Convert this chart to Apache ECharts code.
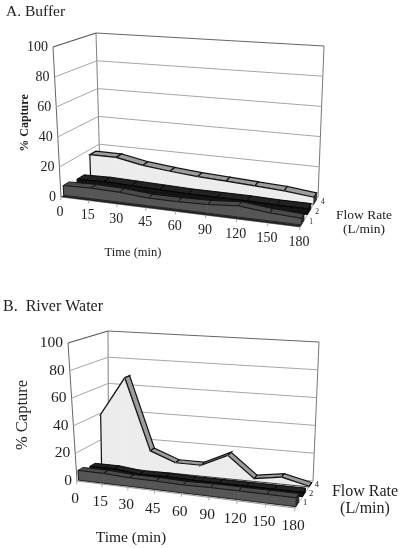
<!DOCTYPE html>
<html><head><meta charset="utf-8">
<style>html,body{margin:0;padding:0;background:#fff}#c{width:400px;height:548px}</style>
<script src="https://cdn.jsdelivr.net/npm/echarts@6/dist/echarts.min.js"></script>
</head><body><div id="c"></div>
<script>
// ---- data ----
const times = ['0','15','30','45','60','90','120','150','180'];
const yTicks = [0,20,40,60,80,100];
const flowLabels = ['1','2','4'];
const bufferFlow1 = [6.5,7,6.5,5,5,5.5,7,5,4];
const bufferFlow2 = [5,5.5,5,4.5,4,4,4,3.5,3.5];
const bufferFlow4 = [16.5,16.5,13,11,9.5,8.5,7.5,6.5,4.5];
const riverFlow1 = [7,7,6,6,5.5,6,6,6,6];
const riverFlow2 = [5,5,3,3.5,3,3,3,3,3];
const riverFlow4 = [39,68,15,8,8,17,2,5,0.5];

// ---- projection of the oblique 3-D box ----
const WARP=-0.08;
function quadMap(q){ // q: [FL, FR, BR, BL]
  const [a,b,c,d]=q;
  return (u,w)=>{
    const s=u+WARP*u*(1-u);
    const f=[a[0]+(b[0]-a[0])*s,a[1]+(b[1]-a[1])*s];
    const k=[d[0]+(c[0]-d[0])*s,d[1]+(c[1]-d[1])*s];
    return [f[0]+(k[0]-f[0])*w,f[1]+(k[1]-f[1])*w];
  };
}
function makePanel(o){
  const fl=quadMap(o.floor),tp=quadMap(o.top);
  o.proj=(u,w,v)=>{const a=fl(u,w),b=tp(u,w);return [a[0]+(b[0]-a[0])*v,a[1]+(b[1]-a[1])*v];};
  return o;
}
const panelA=makePanel({
  floor:[[61,197],[300,227],[318,197],[100,172]],
  top:[[53,47],[304,64],[324,46],[96,33]],
  grid:{left:61,top:47,width:240,height:150},
  depths:[[0.07,0.22],[0.42,0.6],[0.76,0.91]],
  depthMid:[0.17,0.5,0.83],
  yOff:[-5,0], xOff:[-1,15], dOff:[8,0],
  fs:14, dfs:7.5, base:'#222'
});
const panelB=makePanel({
  floor:[[77,481],[295,508],[313,481],[108.5,462]],
  top:[[68,343],[300,361],[319,342],[108,331]],
  grid:{left:77,top:343,width:218,height:138},
  depths:[[0.05,0.21],[0.42,0.58],[0.78,0.92]],
  depthMid:[0.17,0.5,0.83],
  yOff:[-5,0], xOff:[-2,18], dOff:[7,-1],
  fs:15.5, dfs:8.5, base:null
});
const looks=[
  {face:'#565656',top:'#4a4a4a',cap:'#2c2c2c',edge:'#111',lw:0.9},
  {face:'#141414',top:'#222',cap:'#0c0c0c',edge:'#000',lw:0.9},
  {face:'#ececec',top:'#9c9c9c',cap:'#333',edge:'#111',lw:1.2}
];
const N=times.length;

function poly(pts,fill,stroke,lw){
  return {type:'polygon',shape:{points:pts},style:{fill:fill,stroke:stroke||null,lineWidth:lw||0}};
}
function line(a,b,c,lw){
  return {type:'line',shape:{x1:a[0],y1:a[1],x2:b[0],y2:b[1]},style:{stroke:c,lineWidth:lw||1,fill:null}};
}
function txt(x,y,t,size,align,vAlign){
  return {type:'text',x:x,y:y,style:{text:t,fill:'#222',font:size+'px "Liberation Serif"',textAlign:align||'center',textVerticalAlign:vAlign||'middle'}};
}
function toUV(api,params,cat,val){
  const p=api.coord([cat,val]),r=params.coordSys;
  return [(p[0]-r.x)/r.width,(r.y+r.height-p[1])/r.height];
}

// frame: walls, gridlines, floor, value labels
function frameSeries(panel,idx){
  return {
    type:'custom',coordinateSystem:'cartesian2d',xAxisIndex:idx,yAxisIndex:idx,silent:true,z:1,
    data:yTicks.map(t=>[0,t]),encode:{x:0,y:1},
    renderItem(params,api){
      const P=panel.proj,val=api.value(1);
      const v=toUV(api,params,0,val)[1];
      const ch=[];
      const c=(val===100)?'#666':'#a6a6a6';
      if(val>0){
        ch.push(line(P(0,0,v),P(0,1,v),(val===100)?'#555':'#a6a6a6',(val===100)?1.3:1));
        ch.push(line(P(0,1,v),P(1,1,v),c,1));
      }
      const lp=P(0,0,v);
      ch.push(txt(lp[0]+panel.yOff[0],lp[1]+panel.yOff[1],String(val),panel.fs,'right'));
      if(val===0){
        ch.unshift(poly([P(0,0,0),P(1,0,0),P(1,1,0),P(0,1,0)],'#fff'));
        ch.push(line(P(0,0,0),P(0,0,1),'#666',1));
        ch.push(line(P(0,1,0),P(0,1,1),'#808080',1));
        ch.push(line(P(1,1,0),P(1,1,1),'#777',1));
        ch.push(line(P(0,0,0),P(0,1,0),'#aaa',1));
        ch.push(line(P(0,1,0),P(1,1,0),'#aaa',1));
        ch.push(line(P(1,0,0),P(1,1,0),'#aaa',1));
        ch.push(line(P(0,0,0),P(1,0,0),'#999',1));
        if(panel.base){
          const d=panel.depths[0][0];
          ch.push(poly([P(0,0,0),P(1,0,0),P(1,d,0),P(0,d,0)],panel.base));
        }
      }
      return {type:'group',children:ch};
    }
  };
}
// x tick labels
function timeSeries(panel,idx){
  return {
    type:'custom',coordinateSystem:'cartesian2d',xAxisIndex:idx,yAxisIndex:idx,silent:true,z:5,
    data:times.map((t,i)=>[i,0]),encode:{x:0,y:1},
    renderItem(params,api){
      const i=api.value(0),uv=toUV(api,params,i,0),a=panel.proj(uv[0],0,0);
      return {type:'group',children:[
        line(a,[a[0]-0.5,a[1]+3],'#aaa',1),
        txt(a[0]+panel.xOff[0],a[1]+panel.xOff[1],times[i],panel.fs)
      ]};
    }
  };
}
// flow labels
function depthSeries(panel,idx){
  return {
    type:'custom',coordinateSystem:'cartesian2d',xAxisIndex:idx,yAxisIndex:idx,silent:true,z:5,
    data:flowLabels.map((t,i)=>[N-1,0,i]),encode:{x:0,y:1},
    renderItem(params,api){
      const k=api.value(2),a=panel.proj(1,panel.depthMid[k],0);
      return txt(a[0]+panel.dOff[0],a[1]+panel.dOff[1],flowLabels[k],panel.dfs);
    }
  };
}
// one 3-D area band
function bandSeries(panel,idx,values,k,name){
  const look=looks[k],dp=panel.depths[k];
  return {
    name:name,type:'custom',coordinateSystem:'cartesian2d',xAxisIndex:idx,yAxisIndex:idx,silent:true,z:2+(2-k)*0.1,
    data:values.map((v,i)=>[i,v]),encode:{x:0,y:1},
    renderItem(params,api){
      const i=api.value(0),P=panel.proj,ch=[];
      const a=toUV(api,params,i,values[i]);
      if(i===N-1){
        ch.push(poly([P(1,dp[0],0),P(1,dp[1],0),P(1,dp[1],a[1]),P(1,dp[0],a[1])],look.cap,look.edge,0.6));
        return {type:'group',children:ch};
      }
      const b=toUV(api,params,i+1,values[i+1]);
      ch.push(poly([P(a[0],dp[0],a[1]),P(b[0],dp[0],b[1]),P(b[0],dp[1],b[1]),P(a[0],dp[1],a[1])],look.top,look.edge,look.lw));
      ch.push(poly([P(a[0],dp[0],0),P(b[0],dp[0],0),P(b[0],dp[0],b[1]),P(a[0],dp[0],a[1])],look.face,look.face,0.7));
      ch.push(line(P(a[0],dp[0],0),P(b[0],dp[0],0),look.edge,0.8));
      ch.push(line(P(a[0],dp[0],a[1]),P(b[0],dp[0],b[1]),look.edge,look.lw));
      if(i===0) ch.push(line(P(a[0],dp[0],0),P(a[0],dp[0],a[1]),look.edge,look.lw));
      return {type:'group',children:ch};
    }
  };
}

function gridOf(p){return {left:p.grid.left,top:p.grid.top,width:p.grid.width,height:p.grid.height};}
function xA(i){return {gridIndex:i,type:'category',boundaryGap:false,data:times,show:false};}
function yA(i){return {gridIndex:i,type:'value',min:0,max:100,interval:20,show:false};}

function g(text,x,y,size,extra){
  return {type:'text',x:x,y:y,silent:true,
    style:{text:text,fill:'#222',font:(extra&&extra.bold?'bold ':'')+size+'px "Liberation Serif"',textAlign:'center',textVerticalAlign:'middle'},
    rotation:extra&&extra.rot||0};
}

const chart=echarts.init(document.getElementById('c'),null,{renderer:'canvas'});
chart.setOption({
  animation:false,backgroundColor:'#fff',
  title:[
    {text:'A. Buffer',left:6,top:4,padding:0,textStyle:{fontFamily:'Liberation Serif',fontWeight:'normal',fontSize:15.5,color:'#222'}},
    {text:'B.  River Water',left:3,top:299,padding:0,textStyle:{fontFamily:'Liberation Serif',fontWeight:'normal',fontSize:16,color:'#222'}}
  ],
  grid:[gridOf(panelA),gridOf(panelB)],
  xAxis:[xA(0),xA(1)],yAxis:[yA(0),yA(1)],
  series:[
    frameSeries(panelA,0),
    bandSeries(panelA,0,bufferFlow4,2,'4'),
    bandSeries(panelA,0,bufferFlow2,1,'2'),
    bandSeries(panelA,0,bufferFlow1,0,'1'),
    timeSeries(panelA,0),depthSeries(panelA,0),
    frameSeries(panelB,1),
    bandSeries(panelB,1,riverFlow4,2,'4'),
    bandSeries(panelB,1,riverFlow2,1,'2'),
    bandSeries(panelB,1,riverFlow1,0,'1'),
    timeSeries(panelB,1),depthSeries(panelB,1)
  ],
  graphic:[
    g('% Capture',25,123,12,{bold:true,rot:Math.PI/2}),
    g('Time (min)',133,253,12.5),
    g('Flow Rate',364,215,13.5),
    g('(L/min)',364,229,13.5),
    g('% Capture',23,415,16.5,{rot:Math.PI/2}),
    g('Time (min)',131,538,15.5),
    g('Flow Rate',365,492,16),
    g('(L/min)',365,509,16)
  ]
});
</script></body></html>
